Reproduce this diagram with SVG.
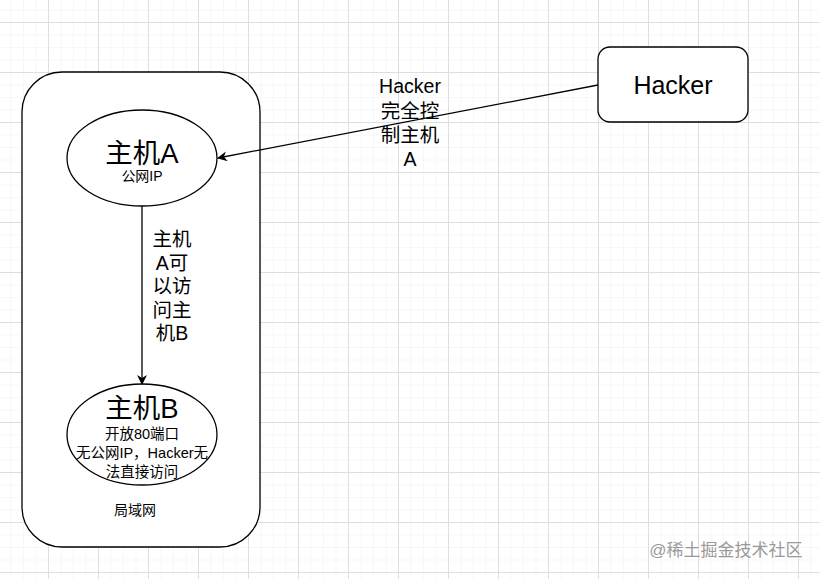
<svg xmlns="http://www.w3.org/2000/svg" width="820" height="579" viewBox="0 0 820 579">
<defs>
<pattern id="minor" x="48" y="22" width="12.5" height="12.5" patternUnits="userSpaceOnUse">
<path d="M0 0H12.5M0 0V12.5" fill="none" stroke="#f0f0f0" stroke-width="1"/>
</pattern>
<pattern id="major" x="48" y="22" width="50" height="50" patternUnits="userSpaceOnUse">
<path d="M0 0.5H50M0.5 0V50" fill="none" stroke="#dedede" stroke-width="1"/>
</pattern>
<marker id="arr" viewBox="0 0 10 10" refX="9" refY="5" markerWidth="10" markerHeight="10" markerUnits="userSpaceOnUse" orient="auto">
<path d="M0 0L10 5L0 10L3 5Z" fill="#000"/>
</marker>
<style>
.shape{fill:#fff;stroke:#000;stroke-width:1.3}
.t{font-family:"Liberation Sans","Noto Sans CJK SC",sans-serif;fill:#000;text-anchor:middle}
.edge{fill:none;stroke:#000;stroke-width:1.3}
</style>
</defs>
<rect width="820" height="579" fill="#fff"/>
<rect width="820" height="579" fill="url(#minor)"/>
<rect width="820" height="579" fill="url(#major)"/>

<g id="lan">
<rect class="shape" x="22" y="72" width="238" height="475" rx="40" ry="40"/>
<text class="t" x="135" y="515" font-size="14">局域网</text>
</g>

<g id="hostA">
<ellipse class="shape" cx="142" cy="158" rx="75" ry="48"/>
<text class="t" x="142" y="163" font-size="27.5">主机A</text>
<text class="t" x="142" y="181" font-size="14">公网IP</text>
</g>

<g id="hostB">
<ellipse class="shape" cx="142" cy="434.5" rx="75" ry="50.5"/>
<text class="t" x="142" y="418" font-size="27.5">主机B</text>
<text class="t" x="142" y="439" font-size="14.5">开放80端口</text>
<text class="t" x="142" y="458" font-size="14.5">无公网IP，Hacker无</text>
<text class="t" x="142" y="477" font-size="14.5">法直接访问</text>
</g>

<g id="hacker">
<rect class="shape" x="598" y="47" width="150" height="75" rx="12" ry="12"/>
<text class="t" x="673" y="94" font-size="25">Hacker</text>
</g>

<g id="connectors">
<path class="edge" d="M598 85L218 158" marker-end="url(#arr)"/>
<path class="edge" d="M142 206V384" marker-end="url(#arr)"/>
<g class="t" font-size="19.5">
<text x="410" y="93">Hacker</text>
<text x="410" y="118">完全控</text>
<text x="410" y="142">制主机</text>
<text x="410" y="166">A</text>
<text x="172" y="246">主机</text>
<text x="172" y="270">A可</text>
<text x="172" y="293">以访</text>
<text x="172" y="317">问主</text>
<text x="172" y="340">机B</text>
</g>
</g>

<text x="726" y="556" font-family="'Liberation Sans','Noto Sans CJK SC',sans-serif" font-size="17" fill="#9a9a9a" text-anchor="middle">@稀土掘金技术社区</text>
</svg>
